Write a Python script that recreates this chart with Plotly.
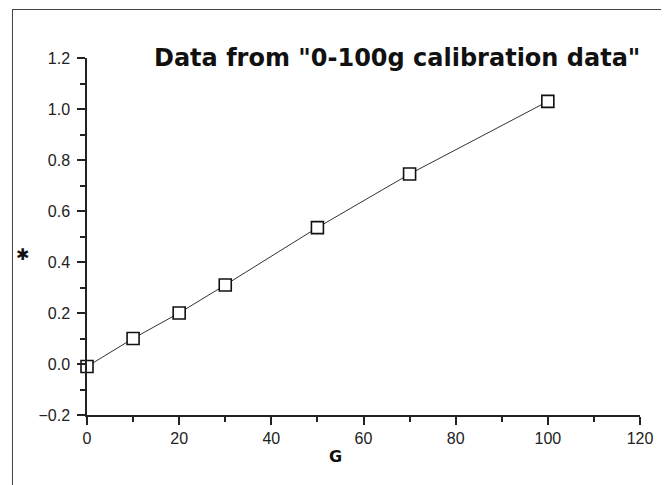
import plotly.graph_objects as go

# Data
grams = [0, 10, 20, 30, 50, 70, 100]
voltage = [-0.01, 0.10, 0.20, 0.31, 0.535, 0.745, 1.03]
title_text = 'Data from "0-100g calibration data"'
x_title = "G"
y_title = "✱"

# page body has an 8px margin; work in reference pixel coords minus 8
OFF = 8
W, H = 669 - OFF, 485 - OFF
L, R, T, B = 87 - OFF, 669 - 640, 58 - OFF, 485 - 415
pw, ph = W - L - R, H - T - B

def px_to_paper_x(px):
    return (px - OFF - L) / pw

def py_to_paper_y(py):
    return (H - B - (py - OFF)) / ph

fig = go.Figure()
fig.add_trace(go.Scatter(
    x=grams, y=voltage, mode="lines+markers",
    line=dict(color="#333333", width=1),
    marker=dict(symbol="square", size=12, color="white",
                line=dict(color="#111111", width=1.6)),
    cliponaxis=False, showlegend=False,
))

tickfont = dict(family="Liberation Sans, Arial, sans-serif", size=16, color="#222222")

fig.update_layout(
    width=W, height=H,
    margin=dict(l=L, r=R, t=T, b=B),
    paper_bgcolor="white", plot_bgcolor="white",
    xaxis=dict(
        range=[0, 120], dtick=20, tick0=0, showgrid=False, zeroline=False,
        showline=True, linecolor="#222222", linewidth=1.5,
        ticks="outside", ticklen=8, tickwidth=1.5, tickcolor="#222222",
        minor=dict(dtick=10, ticks="outside", ticklen=5, tickwidth=1.5, tickcolor="#222222", showgrid=False),
        tickfont=tickfont, ticklabelstandoff=0,
    ),
    yaxis=dict(
        range=[-0.2, 1.2], dtick=0.2, tick0=0, showgrid=False, zeroline=False,
        tickformat=".1f",
        showline=True, linecolor="#222222", linewidth=1.5,
        ticks="outside", ticklen=8, tickwidth=1.5, tickcolor="#222222",
        minor=dict(dtick=0.1, ticks="outside", ticklen=5, tickwidth=1.5, tickcolor="#222222", showgrid=False),
        tickfont=tickfont, ticklabelstandoff=4,
    ),
    shapes=[
        dict(type="line", xref="paper", yref="paper",
             x0=px_to_paper_x(12), x1=px_to_paper_x(700),
             y0=py_to_paper_y(9.5), y1=py_to_paper_y(9.5),
             line=dict(color="#444444", width=1)),
        dict(type="line", xref="paper", yref="paper",
             x0=px_to_paper_x(12.5), x1=px_to_paper_x(12.5),
             y0=py_to_paper_y(9), y1=py_to_paper_y(520),
             line=dict(color="#444444", width=1)),
    ],
    annotations=[
        dict(text=title_text, xref="paper", yref="paper",
             x=px_to_paper_x(642), y=py_to_paper_y(58),
             xanchor="right", yanchor="middle", showarrow=False,
             font=dict(family="DejaVu Sans, sans-serif", size=24, color="#111111", weight="bold")),
        dict(text=x_title, xref="paper", yref="paper",
             x=px_to_paper_x(335), y=py_to_paper_y(456),
             xanchor="center", yanchor="middle", showarrow=False,
             font=dict(family="DejaVu Sans, sans-serif", size=16, color="#111111", weight="bold")),
        dict(text=y_title, xref="paper", yref="paper",
             x=px_to_paper_x(22), y=py_to_paper_y(254),
             xanchor="center", yanchor="middle", showarrow=False,
             font=dict(family="DejaVu Sans, sans-serif", size=16, color="#111111", weight="bold")),
    ],
)

fig.write_html("out.html", config={"displayModeBar": False})
